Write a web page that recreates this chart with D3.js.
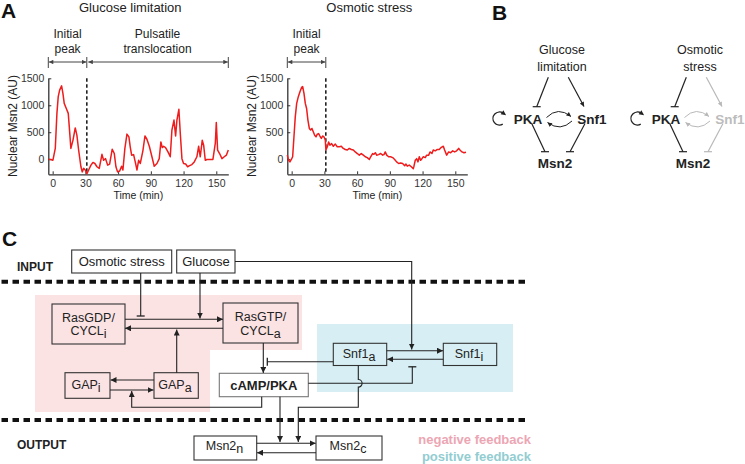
<!DOCTYPE html>
<html><head><meta charset="utf-8">
<script src="https://cdn.jsdelivr.net/npm/d3@7"></script>
<style>body{margin:0;background:#fff}svg{display:block;font-family:"Liberation Sans",Arial,Helvetica,sans-serif}</style>
</head><body><svg id="c" width="745" height="464"></svg>
<script>
// ---------- DATA ----------
const glucoseTime=[-3.7,-1.6,0.2,2.4,3.9,5.1,6.4,8.2,9.4,10.6,12.5,14.3,16.7,18.6,20.7,22.2,23.8,25.9,27.1,28.4,29.9,31.4,33.2,35.1,36.9,38.7,40.6,42.7,45.2,46.7,48.5,50.4,52.2,54.6,56.5,58.0,59.5,61.4,63.2,64.4,66.2,68.1,69.9,71.1,72.4,74.2,75.7,77.3,78.8,80.3,82.7,84.6,86.4,88.6,91.0,93.1,95.6,97.7,99.2,100.5,101.7,103.5,105.7,107.8,109.3,111.2,112.7,113.9,115.7,117.0,118.5,120.0,121.9,123.7,125.5,127.6,129.8,132.2,133.8,135.3,137.1,138.4,139.9,141.4,143.9,146.9,149.1,150.0,151.2,153.0,155.2,157.3,159.2,161.0];
const glucoseMsn2=[0,-5,-20,200,850,1160,1280,1360,1220,1035,940,850,200,350,580,445,170,-140,-235,-170,-200,-270,-190,-110,-60,-80,-140,-170,90,-20,10,-110,-90,185,105,-140,-235,-220,-130,-200,200,465,415,230,75,85,-50,-200,-20,-80,155,430,370,240,45,-130,-80,10,320,215,240,215,135,45,540,725,430,725,925,475,10,-80,-90,-140,-120,-100,-50,45,240,45,350,260,-20,-5,-5,-5,300,680,170,105,10,45,75,170];
const osmoticTime=[-4.0,-2.8,-1.6,-0.3,0.9,2.1,3.3,4.6,6.1,7.6,9.1,10.1,11.3,12.5,13.7,14.9,16.2,17.4,18.6,19.8,21.1,22.3,23.5,24.7,25.9,27.2,28.4,29.6,30.8,31.4,32.7,33.9,35.1,36.6,38.2,40.0,41.8,43.7,45.5,47.3,49.2,51.0,52.8,54.7,56.5,58.3,60.2,62.0,63.8,65.7,67.5,69.3,71.2,72.4,74.2,75.4,76.7,77.9,79.7,81.6,83.4,84.6,85.8,87.1,88.9,90.7,92.6,94.4,96.2,98.1,99.9,101.7,103.6,104.8,106.0,107.8,109.7,111.5,112.1,113.3,114.6,115.8,117.0,118.2,119.4,120.7,122.5,123.7,125.6,126.8,128.6,129.8,131.7,133.5,135.3,137.2,139.0,140.2,142.1,143.9,145.7,147.6,149.4,151.2,153.1,154.3,156.1,157.9,159.8];
const osmoticMsn2=[75,-20,-50,-5,45,415,785,1035,1160,1250,1330,1345,1220,1035,940,725,570,540,570,510,445,415,465,475,430,385,430,415,355,170,230,320,260,290,240,280,230,230,240,200,180,170,200,180,170,135,105,75,105,75,45,30,-5,45,105,90,120,75,85,105,75,85,135,75,45,45,30,-5,-50,-80,-70,-80,-120,-90,-130,-110,-140,-175,-130,-20,10,-50,45,-20,10,45,30,75,75,135,105,170,155,180,180,220,240,170,75,135,120,155,135,155,200,170,135,120,130];
const timeTicks=[0,30,60,90,120,150];
const msn2Ticks=[0,500,1000,1500];
const timeDomain=[-4,161];
const msn2Domain=[-280,1500];
const phaseSplit=31.3;

// ---------- SETUP ----------
const FONT='"Liberation Sans",Arial,Helvetica,sans-serif';
const svg=d3.select('#c');
const defs=svg.append('defs');
function marker(id,len,wid,color){
  defs.append('marker').attr('id',id).attr('viewBox','0 0 10 10').attr('refX',10).attr('refY',5)
   .attr('markerWidth',len).attr('markerHeight',wid).attr('markerUnits','userSpaceOnUse')
   .attr('orient','auto-start-reverse').append('path').attr('d','M0,0L10,5L0,10z').attr('fill',color);
}
marker('ah',6,6,'#222');
marker('ahS',5,4.5,'#444');
marker('ahB',5,4.5,'#222');
marker('ahG',5,4.5,'#b8b8b8');

function txt(x,y,s,size,opt={}){
  return svg.append('text').attr('x',x).attr('y',y).text(s)
    .attr('font-size',size).attr('font-weight',opt.bold?'bold':'normal')
    .attr('text-anchor',opt.anchor||'middle').attr('fill',opt.color||'#222');
}
function line(pts,opt={}){
  const p=svg.append('path').attr('d',typeof pts==='string'?pts:d3.line()(pts))
   .attr('fill','none').attr('stroke',opt.color||'#222').attr('stroke-width',opt.w||1.1);
  if(opt.end) p.attr('marker-end','url(#'+opt.end+')');
  if(opt.start) p.attr('marker-start','url(#'+opt.start+')');
  if(opt.dash) p.attr('stroke-dasharray',opt.dash);
  return p;
}

// ---------- PANEL A ----------
txt(1,18,'A',21,{bold:true,anchor:'start',color:'#111'});
function plot(left,time,vals,title,annot){
  const x=d3.scaleLinear().domain(timeDomain).range([left,left+180]);
  const y=d3.scaleLinear().domain(msn2Domain).range([174.3,78.3]);
  const ga=svg.append('g').attr('transform','translate(0,174.3)')
    .call(d3.axisBottom(x).tickValues(timeTicks).tickFormat(d3.format('d')).tickSizeInner(-3).tickSizeOuter(0).tickPadding(5));
  const gl=svg.append('g').attr('transform',`translate(${left},0)`)
    .call(d3.axisLeft(y).tickValues(msn2Ticks).tickFormat(d3.format('d')).tickSizeInner(-3).tickSizeOuter(0).tickPadding(4));
  [ga,gl].forEach(g=>{
    g.attr('font-family',FONT).attr('font-size',10.5);
    g.select('.domain').attr('stroke','#333').attr('stroke-width',1.3);
    g.selectAll('.tick line').attr('stroke','#333');
    g.selectAll('.tick text').attr('fill','#333');
  });
  svg.append('line').attr('x1',x(phaseSplit)).attr('x2',x(phaseSplit)).attr('y1',y(1500)).attr('y2',174.3)
    .attr('stroke','#222').attr('stroke-width',1.6).attr('stroke-dasharray','3.5,2.5');
  svg.append('path').datum(d3.zip(time,vals))
    .attr('d',d3.line().x(d=>x(d[0])).y(d=>y(d[1])))
    .attr('fill','none').attr('stroke','#ee1c1c').attr('stroke-width',1.5).attr('stroke-linejoin','round');
  txt(left+82,12,title,13,{color:'#222'});
  svg.append('text').attr('transform',`translate(${left-31},126) rotate(-90)`).attr('text-anchor','middle')
    .attr('font-size',12).attr('fill','#222').text('Nuclear Msn2 (AU)');
  txt(left+90,199,'Time (min)',10.5,{color:'#222'});
  const xa=x(timeDomain[0]), xs=x(phaseSplit), xe=x(timeDomain[1]);
  const bars=[xa,xs];
  line([[xa+0.5,62],[xs-0.5,62]],{color:'#444',w:1,end:'ahS',start:'ahS'});
  txt((xa+xs)/2,38,'Initial',12,{color:'#222'});
  txt((xa+xs)/2,53,'peak',12,{color:'#222'});
  if(annot){
    line([[xs+1.5,62],[xe-0.5,62]],{color:'#444',w:1,end:'ahS',start:'ahS'});
    bars.push(xe);
    txt((xs+xe)/2,38,'Pulsatile',12,{color:'#222'});
    txt((xs+xe)/2,53,'translocation',12,{color:'#222'});
  }
  bars.forEach(b=>line([[b,57],[b,68]],{color:'#444',w:1}));
}
plot(48.3,glucoseTime,glucoseMsn2,'Glucose limitation',true);
plot(287.3,osmoticTime,osmoticMsn2,'Osmotic stress',false);

// ---------- PANEL B ----------
txt(492,20,'B',21,{bold:true,anchor:'start',color:'#111'});
function tbar(x,y,c){line([[x-4,y],[x+4,y]],{color:c,w:1.2});}
function network(dx,labelA,labelB,grey){
  const k='#222', g2=grey?'#b8b8b8':'#222', mk=grey?'ahG':'ahB';
  txt(562+dx,54,labelA,12.5);
  txt(562+dx,70.5,labelB,12.5);
  txt(528+dx,124,'PKA',13.5,{bold:true});
  txt(592+dx,124,'Snf1',13.5,{bold:true,color:grey?'#bcbcbc':'#222'});
  txt(555+dx,168,'Msn2',13.5,{bold:true});
  line([[548.3+dx,77.3],[536.7+dx,106.7]],{color:k,w:1.2}); tbar(536.7+dx,106.7,k);
  line([[568.3+dx,77.3],[584+dx,106.5]],{color:g2,w:1.2,end:mk});
  line([[531.7+dx,123.5],[545+dx,151.7]],{color:k,w:1.2}); tbar(545+dx,151.7,k);
  line([[585+dx,123.5],[570+dx,151.7]],{color:g2,w:1.2}); tbar(570+dx,151.7,g2);
  line(`M${546.5+dx},117.5 Q${558+dx},106 ${571+dx},116.5`,{color:g2,w:1,end:mk});
  line(`M${572+dx},121 Q${560.5+dx},132 ${547.5+dx},122.5`,{color:g2,w:1,end:mk});
  // self loop: C-shape open to the right, arrow at upper end
  const cx=499.5+dx, cy=118.5, r=6.5;
  const a0=60*Math.PI/180, a1=-55*Math.PI/180;
  const p0=[cx+r*Math.cos(a0),cy+r*Math.sin(a0)], p1=[cx+r*Math.cos(a1),cy+r*Math.sin(a1)];
  line(`M${p0[0]},${p0[1]} A${r},${r} 0 1 1 ${p1[0]},${p1[1]}`,{color:k,w:1.3});
  // arrowhead at upper end, tangent direction (clockwise)
  const tx=-Math.sin(a1), ty=Math.cos(a1);
  svg.append('path').attr('d',`M${p1[0]+tx*3.5},${p1[1]+ty*3.5}L${p1[0]-tx*1.5-ty*2.4},${p1[1]-ty*1.5+tx*2.4}L${p1[0]-tx*1.5+ty*2.4},${p1[1]-ty*1.5-tx*2.4}Z`).attr('fill',k);
}
network(0,'Glucose','limitation',false);
network(138,'Osmotic','stress',true);

// ---------- PANEL C ----------
txt(2,246,'C',21,{bold:true,anchor:'start',color:'#111'});
svg.append('path').attr('d','M35,295H302V350H210V412H35Z').attr('fill','#fbe3e4');
svg.append('rect').attr('x',317).attr('y',324).attr('width',196).attr('height',68).attr('fill','#d7eff4');
[281.7,420].forEach(yy=>svg.append('line').attr('x1',1.5).attr('x2',528).attr('y1',yy).attr('y2',yy)
  .attr('stroke','#111').attr('stroke-width',4).attr('stroke-dasharray','6.5,4.5'));
txt(17,271,'INPUT',12,{bold:true,anchor:'start'});
txt(17,449,'OUTPUT',12,{bold:true,anchor:'start'});
function box(x0,y0,x1,y1,c){svg.append('rect').attr('x',x0).attr('y',y0).attr('width',x1-x0).attr('height',y1-y0)
  .attr('fill','none').attr('stroke',c||'#333').attr('stroke-width',1.1);}
function sub(x,y,main,s,size,bold){
  const t=svg.append('text').attr('x',x).attr('y',y).attr('text-anchor','middle').attr('font-size',size)
    .attr('fill','#222').attr('font-weight',bold?'bold':'normal');
  t.append('tspan').text(main);
  t.append('tspan').attr('dy',3).text(s);
  return t;
}
box(71.7,250,171.7,273); txt(121.7,266,'Osmotic stress',13);
box(176.7,250,235,273); txt(206,266,'Glucose',13);
box(52,304,125,344); txt(88.5,322,'RasGDP/',12.5); sub(88.5,335,'CYCL','i',12.5);
box(223,303,298,343); txt(260.5,321,'RasGTP/',12.5); sub(260.5,334.5,'CYCL','a',12.5);
box(65,372.7,110,398.3); sub(86,389,'GAP','i',12.5);
box(154,372.7,198.3,398.3); sub(175,389,'GAP','a',12.5);
box(219.3,373.3,308.3,396.7,'#777'); txt(263.8,390,'cAMP/PKA',13,{bold:true});
box(333.3,343.3,386.7,365.5); sub(359,357.5,'Snf1','a',12.5);
box(443.3,343.3,496.7,365.5); sub(469,357.5,'Snf1','i',12.5);
box(194,436,256.7,460); sub(224.5,450,'Msn2','n',12.5);
box(316,436,382,460); sub(348,450,'Msn2','c',12.5);
const C='#222';
line([[125,319.3],[223,319.3]],{color:C,end:'ah'});
line([[223,328.3],[125,328.3]],{color:C,end:'ah'});
line([[140.7,273],[140.7,316]],{color:C}); line([[136.7,316],[144.7,316]],{color:C,w:1.3});
line([[200,273],[200,318.5]],{color:C,end:'ah'});
line('M235,261.5H411.7V349.5',{color:C,end:'ah'});
line([[176.7,372.7],[176.7,329.5]],{color:C,end:'ah'});
line([[154,380],[110.5,380]],{color:C,end:'ah'});
line([[110,390],[153.5,390]],{color:C,end:'ah'});
line([[263.3,343],[263.3,373]],{color:C,end:'ah'});
line([[333.3,361.7],[267.3,361.7]],{color:C}); line([[267.3,357.7],[267.3,365.7]],{color:C,w:1.3});
line('M261.7,396.7V407.3H131.7V391',{color:C,end:'ah'});
line([[280,396.7],[280,442]],{color:C,end:'ah'});
line([[386.7,350.7],[443,350.7]],{color:C,end:'ah'});
line([[443.3,359.3],[387.2,359.3]],{color:C,end:'ah'});
line('M308.3,383.3H412.3V366.8',{color:C}); line([[408.3,366.8],[416.3,366.8]],{color:C,w:1.3});
line('M358.3,365.5V379.5A3.8,3.8 0 0 1 358.3,387.1V407.3H298.3V442',{color:C,end:'ah'});
line([[256.7,443.3],[315.7,443.3]],{color:C,end:'ah'});
line([[316,452.7],[257,452.7]],{color:C,end:'ah'});
txt(531,443.5,'negative feedback',13,{bold:true,anchor:'end',color:'#eca6b3'});
txt(531,461,'positive feedback',13,{bold:true,anchor:'end',color:'#92cdd1'});
</script></body></html>
